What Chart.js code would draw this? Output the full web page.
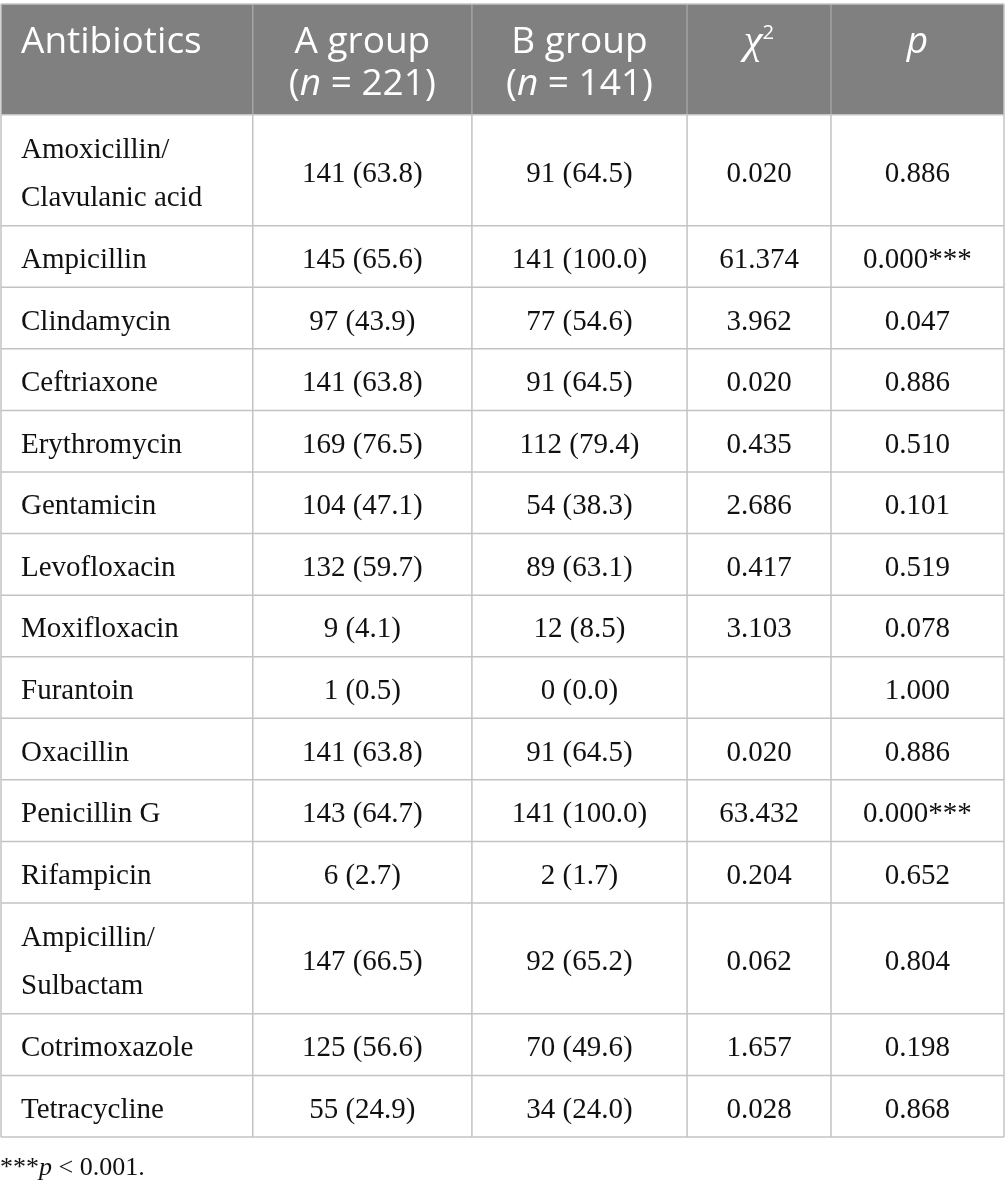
<!DOCTYPE html>
<html>
<head>
<meta charset="utf-8">
<script src="https://cdn.jsdelivr.net/npm/chart.js@4"></script>
<style>
  html, body { margin: 0; padding: 0; background: #fff; }
  #wrap { width: 1005px; height: 1191px; position: relative; }
</style>
</head>
<body>
<div id="wrap"><canvas id="table"></canvas></div>
<script>
// table data
const antibiotics = [
    'Amoxicillin/\nClavulanic acid', 'Ampicillin', 'Clindamycin', 'Ceftriaxone',
    'Erythromycin', 'Gentamicin', 'Levofloxacin', 'Moxifloxacin', 'Furantoin',
    'Oxacillin', 'Penicillin G', 'Rifampicin', 'Ampicillin/\nSulbactam',
    'Cotrimoxazole', 'Tetracycline'
];
const groupSizes = [221, 141];
const groupA_n   = [141, 145, 97, 141, 169, 104, 132, 9, 1, 141, 143, 6, 147, 125, 55];
const groupA_pct = [63.8, 65.6, 43.9, 63.8, 76.5, 47.1, 59.7, 4.1, 0.5, 63.8, 64.7, 2.7, 66.5, 56.6, 24.9];
const groupB_n   = [91, 141, 77, 91, 112, 54, 89, 12, 0, 91, 141, 2, 92, 70, 34];
const groupB_pct = [64.5, 100.0, 54.6, 64.5, 79.4, 38.3, 63.1, 8.5, 0.0, 64.5, 100.0, 1.7, 65.2, 49.6, 24.0];
const chiSq      = [0.020, 61.374, 3.962, 0.020, 0.435, 2.686, 0.417, 3.103, null, 0.020, 63.432, 0.204, 0.062, 1.657, 0.028];
const pValues    = [0.886, 0.000, 0.047, 0.886, 0.510, 0.101, 0.519, 0.078, 1.000, 0.886, 0.000, 0.652, 0.804, 0.198, 0.868];

// layout (x in percent of table width, y in "line" units)
const colEdges = [0, 25.1, 46.95, 68.4, 82.75, 100];
const rowPad = 0.25;
const headerLines = 2;

const HEAD_FONT = '"Open Sans", sans-serif';
const BODY_FONT = '"Liberation Serif", "Times New Roman", serif';

const headerCells = [
    [[{ t: 'Antibiotics' }]],
    [[{ t: 'A group' }], [{ t: '(' }, { t: 'n', i: true }, { t: ' = ' + groupSizes[0] + ')' }]],
    [[{ t: 'B group' }], [{ t: '(' }, { t: 'n', i: true }, { t: ' = ' + groupSizes[1] + ')' }]],
    [[{ t: '\u03c7', i: true, f: BODY_FONT, s: 1.15 }, { t: '2', sup: true }]],
    [[{ t: 'p', i: true }]]
];

function bodyCells(r) {
    const stars = pValues[r] < 0.001 ? '***' : '';
    return [
        antibiotics[r].split('\n').map(s => [{ t: s }]),
        [[{ t: groupA_n[r] + ' (' + groupA_pct[r].toFixed(1) + ')' }]],
        [[{ t: groupB_n[r] + ' (' + groupB_pct[r].toFixed(1) + ')' }]],
        [[{ t: chiSq[r] === null ? '' : chiSq[r].toFixed(3) }]],
        [[{ t: pValues[r].toFixed(3) + stars }]]
    ];
}

const rowLines = [headerLines].concat(antibiotics.map(a => a.split('\n').length));
const totalUnits = rowLines.reduce((s, n) => s + n + rowPad, 0);

function segFont(seg, size, family) {
    let sz = seg.sup ? size * 0.55 : size;
    if (seg.s) sz *= seg.s;
    return (seg.i ? 'italic ' : '') + sz + 'px ' + (seg.f || family);
}

function drawRich(ctx, segs, x, y, align, size, family) {
    let w = 0;
    segs.forEach(s => { ctx.font = segFont(s, size, family); w += ctx.measureText(s.t).width; });
    let cx = align === 'center' ? x - w / 2 : x;
    ctx.textAlign = 'left';
    ctx.textBaseline = 'alphabetic';
    segs.forEach(s => {
        ctx.font = segFont(s, size, family);
        ctx.fillText(s.t, cx, s.sup ? y - size * 0.4 : y);
        cx += ctx.measureText(s.t).width;
    });
}

const tablePlugin = {
    id: 'tablePlugin',
    afterDraw(chart) {
        const ctx = chart.ctx;
        const xs = chart.scales.x, ys = chart.scales.y;
        const xp = colEdges.map(v => xs.getPixelForValue(v));
        const bounds = [0];
        rowLines.forEach(n => bounds.push(bounds[bounds.length - 1] + n + rowPad));
        const yp = bounds.map(v => ys.getPixelForValue(v));
        const unitPx = Math.abs(ys.getPixelForValue(1) - ys.getPixelForValue(0));
        const left = xp[0], right = xp[xp.length - 1];

        ctx.save();
        // header background
        ctx.fillStyle = '#7f807f';
        ctx.fillRect(left, yp[0], right - left, yp[1] - yp[0]);

        // grid
        ctx.lineWidth = 1.5;
        ctx.strokeStyle = '#a3a3a3';
        ctx.beginPath();
        xp.slice(1, -1).forEach(x => { ctx.moveTo(x, yp[0]); ctx.lineTo(x, yp[1]); });
        ctx.stroke();

        ctx.strokeStyle = '#c3c3c3';
        ctx.beginPath();
        yp.forEach(y => { ctx.moveTo(left, y); ctx.lineTo(right, y); });
        ctx.moveTo(left, yp[0]); ctx.lineTo(left, yp[yp.length - 1]);
        ctx.moveTo(right, yp[0]); ctx.lineTo(right, yp[yp.length - 1]);
        xp.slice(1, -1).forEach(x => { ctx.moveTo(x, yp[1]); ctx.lineTo(x, yp[yp.length - 1]); });
        ctx.stroke();

        // header text
        ctx.fillStyle = '#ffffff';
        const hSize = 37, hLine = 42;
        headerCells.forEach((lines, c) => {
            const mid = (yp[0] + yp[1]) / 2;
            lines.forEach((segs, li) => {
                const y = mid - hLine / 2 + 15 + li * hLine;
                if (c === 0) drawRich(ctx, segs, left + 20, y, 'left', hSize, HEAD_FONT);
                else drawRich(ctx, segs, (xp[c] + xp[c + 1]) / 2, y, 'center', hSize, HEAD_FONT);
            });
        });

        // body text
        ctx.fillStyle = '#111111';
        const bSize = 29, bLine = unitPx * 0.975;
        antibiotics.forEach((_, r) => {
            const cells = bodyCells(r);
            const mid = (yp[r + 1] + yp[r + 2]) / 2;
            cells.forEach((lines, c) => {
                const n = lines.length;
                lines.forEach((segs, li) => {
                    const y = mid - (n - 1) * bLine / 2 + li * bLine + 11.5;
                    if (c === 0) drawRich(ctx, segs, left + 20, y, 'left', bSize, BODY_FONT);
                    else drawRich(ctx, segs, (xp[c] + xp[c + 1]) / 2, y, 'center', bSize, BODY_FONT);
                });
            });
        });

        // footnote
        const fy = yp[yp.length - 1] + 38;
        drawRich(ctx, [{ t: '***' }, { t: 'p', i: true }, { t: ' < 0.001.' }], 0, fy, 'left', 26, BODY_FONT);
        ctx.restore();
    }
};

new Chart(document.getElementById('table'), {
    type: 'scatter',
    data: { datasets: [] },
    options: {
        responsive: true,
        maintainAspectRatio: false,
        animation: false,
        events: [],
        layout: { padding: { top: 4, bottom: 54, left: 1, right: 1 } },
        plugins: { legend: { display: false }, tooltip: { enabled: false } },
        scales: {
            x: { type: 'linear', min: 0, max: 100, display: false },
            y: { type: 'linear', min: 0, max: totalUnits, reverse: true, display: false }
        }
    },
    plugins: [tablePlugin]
});
</script>
</body>
</html>
